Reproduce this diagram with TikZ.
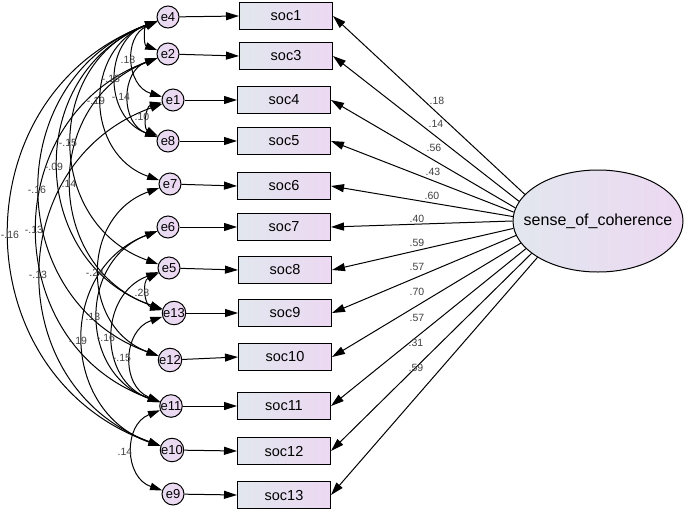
\documentclass[tikz,border=0pt]{standalone}
\usepackage{fontspec}
\setmainfont{Liberation Sans}
\usetikzlibrary{arrows.meta,shapes.geometric}
\definecolor{boxL}{HTML}{E2E7EE}
\definecolor{boxR}{HTML}{ECD8F2}
\definecolor{errL}{HTML}{E6DDF0}
\definecolor{errR}{HTML}{EED6F2}
\begin{document}
\begin{tikzpicture}[x=1pt,y=-1pt,
  err/.style={circle, draw=black, line width=1pt, left color=errL, right color=errR, minimum size=22pt, inner sep=0pt, font=\fontsize{13}{13}\selectfont},
  obs/.style={rectangle, draw=black, line width=1pt, left color=boxL, right color=boxR, minimum width=93pt, minimum height=27pt, inner sep=0pt, font=\fontsize{14.5}{14.5}\selectfont},
  lat/.style={ellipse, draw=black, line width=1pt, left color=boxL, right color=boxR, minimum width=170pt, minimum height=102pt, inner sep=0pt, font=\fontsize{16}{16}\selectfont},
  regarrow/.style={-{Triangle[length=13pt,width=8pt]}, line width=1pt},
  cov/.style={{Triangle[length=12pt,width=7.5pt]}-{Triangle[length=12pt,width=7.5pt]}, line width=1pt, bend right=70, looseness=1.27},
  coef/.style={font=\fontsize{10.5}{10.5}\selectfont, text=black!75, inner sep=0pt}
]
\useasboundingbox (0,0) rectangle (685,512);

% latent
\node[lat] (sc) at (598,221) {\makebox[0pt]{sense\_of\_coherence}};

% observed
\node[obs] (soc1)  at (286,16)  {soc1};
\node[obs] (soc3)  at (286,56)  {soc3};
\node[obs] (soc4)  at (284,100) {soc4};
\node[obs] (soc5)  at (284,141) {soc5};
\node[obs] (soc6)  at (284,186) {soc6};
\node[obs] (soc7)  at (284,227) {soc7};
\node[obs] (soc8)  at (285,270) {soc8};
\node[obs] (soc9)  at (285,313) {soc9};
\node[obs] (soc10) at (285,357) {soc10};
\node[obs] (soc11) at (284,406) {soc11};
\node[obs] (soc12) at (284,451) {soc12};
\node[obs] (soc13) at (284,495) {soc13};

% errors
\node[err] (e4)  at (168,17)  {e4};
\node[err] (e2)  at (168,54)  {e2};
\node[err] (e1)  at (173,100) {e1};
\node[err] (e8)  at (168,141) {e8};
\node[err] (e7)  at (170,184) {e7};
\node[err] (e6)  at (168,227) {e6};
\node[err] (e5)  at (169,268) {e5};
\node[err] (e13) at (174,313) {e13};
\node[err] (e12) at (170,360) {e12};
\node[err] (e11) at (171,406) {e11};
\node[err] (e10) at (172,450) {e10};
\node[err] (e9)  at (173,494) {e9};

% error -> indicator
\foreach \e/\s in {e4/soc1,e2/soc3,e1/soc4,e8/soc5,e7/soc6,e6/soc7,e5/soc8,e13/soc9,e12/soc10,e11/soc11,e10/soc12,e9/soc13}
  \draw[regarrow] (\e) -- (\s.west);

% latent -> indicator
\foreach \a/\s in {160/soc1,166/soc3,171/soc4,174/soc5,177/soc6,180/soc7,185/soc8,190/soc9,196/soc10,201/soc11,206/soc12,211/soc13}
  \draw[regarrow] (sc.\a) -- (\s.east);

% loading labels
\node[coef] (l1)  at (437,101) {.18};
\node[coef] (l3)  at (436,124) {.14};
\node[coef] (l4)  at (434,148) {.56};
\node[coef] (l5)  at (433,172) {.43};
\node[coef] (l6)  at (432,196) {.60};
\node[coef] (l7)  at (417,219) {.40};
\node[coef] (l8)  at (417,243) {.59};
\node[coef] (l9)  at (417,267) {.57};
\node[coef] (l10) at (417,292) {.70};
\node[coef] (l11) at (417,318) {.57};
\node[coef] (l12) at (416,343) {.31};
\node[coef] (l13) at (416,368) {.59};

% covariances
\draw[cov] (e4) to (e2);
\draw[cov] (e4) to (e1);
\draw[cov] (e4) to (e8);
\draw[cov] (e4) to (e7);
\draw[cov] (e4) to (e5);
\draw[cov] (e4) to (e13);
\draw[cov] (e4) to (e12);
\draw[cov] (e4) to (e10);
\draw[cov] (e2) to (e8);
\draw[cov] (e2) to (e13);
\draw[cov] (e2) to (e11);
\draw[cov] (e1) to (e8);
\draw[cov] (e1) to (e10);
\draw[cov] (e7) to (e12);
\draw[cov] (e6) to (e11);
\draw[cov] (e6) to (e10);
\draw[cov] (e5) to (e13);
\draw[cov] (e5) to (e11);
\draw[cov] (e13) to (e11);
\draw[cov] (e11) to (e9);

% covariance labels
\node[coef] (c1)  at (128,60)  {.18};
\node[coef] (c2)  at (111,79)  {-.18};
\node[coef] (c3)  at (96,101)  {-.19};
\node[coef] (c4)  at (121,97)  {-.14};
\node[coef] (c5)  at (142,117) {.10};
\node[coef] (c6)  at (68,143)  {-.15};
\node[coef] (c7)  at (54,167)  {-.09};
\node[coef] (c8)  at (37,190)  {-.16};
\node[coef] (c9)  at (69,184)  {.14};
\node[coef] (c10) at (10,235)  {-.16};
\node[coef] (c11) at (34,230)  {-.13};
\node[coef] (c12) at (38,275)  {-.13};
\node[coef] (c13) at (95,273)  {-.24};
\node[coef] (c14) at (142,293) {.28};
\node[coef] (c15) at (93,317)  {.13};
\node[coef] (c16) at (78,341)  {-.19};
\node[coef] (c17) at (106,338) {-.16};
\node[coef] (c18) at (122,358) {-.15};
\node[coef] (c19) at (125,452) {.14};
\end{tikzpicture}
\end{document}
